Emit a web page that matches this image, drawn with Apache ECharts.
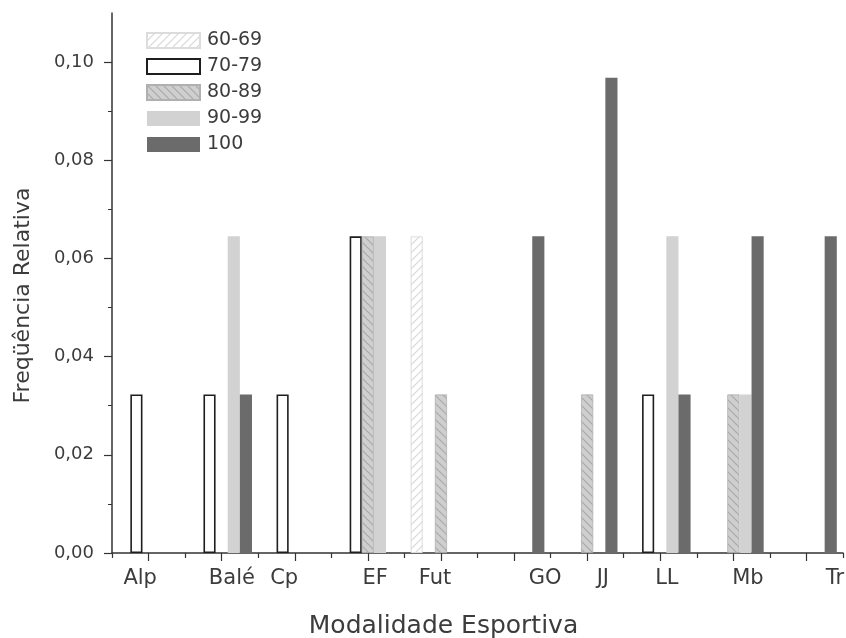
<!DOCTYPE html>
<html><head><meta charset="utf-8">
<script src="https://cdn.jsdelivr.net/npm/echarts@6/dist/echarts.min.js"></script>
<style>html,body{margin:0;padding:0;background:#fff}#c{width:846px;height:638px}</style>
</head><body><div id="c"></div>
<script>
// ---- data ----
const categories = ['Alp','Balé','Cp','EF','Fut','GO','JJ','LL','Mb','Tr'];
const seriesNames = ['60-69','70-79','80-89','90-99','100'];
const s60_69 = [null,null,null,null,0.0645,null,null,null,null,null];
const s70_79 = [0.0323,0.0323,0.0323,0.0645,null,null,null,0.0323,null,null];
const s80_89 = [null,null,null,0.0645,0.0323,null,0.0323,null,0.0323,null];
const s90_99 = [null,0.0645,null,0.0645,null,null,null,0.0645,0.0323,null];
const s100   = [null,0.0323,null,null,null,0.0645,0.0968,0.0323,0.0645,0.0645];
const yTickValues = [0,0.02,0.04,0.06,0.08,0.10];
const yMinorTickValues = [0.01,0.03,0.05,0.07,0.09];
const xTitle = 'Modalidade Esportiva';
const yTitle = 'Freqüência Relativa';

// ---- layout (label anchor positions along the 0..20 tick scale) ----
const labelAnchors = [0.77,3.28,4.71,7.2,8.84,11.85,13.43,15.18,17.4,19.78];
const centerTicks = [1,3,5,7,9,11,13,15,17,19];

function hatch(bg, line, dir){
  const c=document.createElement('canvas'); c.width=c.height=8;
  const g=c.getContext('2d'); g.fillStyle=bg; g.fillRect(0,0,8,8);
  g.strokeStyle=line; g.lineWidth=1.2; g.beginPath();
  if(dir>0){ g.moveTo(-1,9);g.lineTo(9,-1); g.moveTo(-5,5);g.lineTo(5,-5); g.moveTo(3,13);g.lineTo(13,3); }
  else { g.moveTo(-1,-1);g.lineTo(9,9); g.moveTo(-5,3);g.lineTo(5,13); g.moveTo(3,-5);g.lineTo(13,5); }
  g.stroke(); return c;
}
const TXT='#3c3c3c', FONT='DejaVu Sans';
const styles = [
  {color:{image:hatch('#ffffff','#d8d8d8',1),repeat:'repeat'}, borderColor:'#dcdcdc', borderWidth:1},
  {color:'#ffffff', borderColor:'#1e1e1e', borderWidth:1.6},
  {color:{image:hatch('#cfcfcf','#a9a9a9',-1),repeat:'repeat'}, borderColor:'#b0b0b0', borderWidth:0.8},
  {color:'#d2d2d2'},
  {color:'#6b6b6b'}
];
const values=[s60_69,s70_79,s80_89,s90_99,s100];
const chart=echarts.init(document.getElementById('c'),null,{renderer:'canvas'});
chart.setOption({
  animation:false,
  backgroundColor:'#ffffff',
  grid:{left:112,right:3,top:13,bottom:85,outerBoundsMode:'none',containLabel:false},
  legend:{data:seriesNames,orient:'vertical',left:141,top:26,itemWidth:53,itemHeight:15,itemGap:7,
    icon:'rect',selectedMode:false,
    textStyle:{fontFamily:FONT,fontSize:19,color:TXT,padding:[0,0,0,2]}},
  xAxis:[
    {type:'category',data:categories,boundaryGap:true,position:'bottom',
     axisLine:{show:true,lineStyle:{color:'#333',width:1.5}},
     axisTick:{show:true,interval:0,length:5,lineStyle:{color:'#333',width:1.2}},
     axisLabel:{show:false},splitLine:{show:false}},
    {type:'value',min:0,max:20,position:'bottom',
     axisLine:{show:false},splitLine:{show:false},
     axisTick:{show:true,customValues:centerTicks,length:8,lineStyle:{color:'#333',width:1.2}},
     axisLabel:{show:true,customValues:labelAnchors,margin:15,hideOverlap:false,
       formatter:(v)=>{const i=labelAnchors.findIndex(a=>Math.abs(a-v)<1e-6);return i>=0?categories[i]:'';},
       fontFamily:FONT,fontSize:21,color:TXT},
     name:xTitle,nameLocation:'middle',nameGap:61,
     nameTextStyle:{fontFamily:FONT,fontSize:25,color:TXT,padding:[0,68,0,0]}}
  ],
  yAxis:[
    {type:'value',min:0,max:0.11,position:'left',
    axisLine:{show:true,lineStyle:{color:'#333',width:1.5}},
    axisTick:{show:true,customValues:yTickValues,length:8,lineStyle:{color:'#333',width:1.2}},
    splitLine:{show:false},
    axisLabel:{customValues:yTickValues,margin:18,fontFamily:FONT,fontSize:18,color:TXT,
      formatter:(v)=>v.toFixed(2).replace('.',',')},
    name:yTitle,nameLocation:'middle',nameGap:78,
    nameTextStyle:{fontFamily:FONT,fontSize:22,color:TXT,padding:[0,25,0,0]}},
    {type:'value',min:0,max:0.11,position:'left',offset:0,
    axisLine:{show:false},splitLine:{show:false},axisLabel:{show:false},
    axisTick:{show:true,customValues:yMinorTickValues,length:4,lineStyle:{color:'#333',width:1}}}
  ],
  series:seriesNames.map((n,i)=>({name:n,type:'bar',xAxisIndex:0,yAxisIndex:0,data:values[i],
    barWidth:'16.6%',barGap:'0%',itemStyle:styles[i]}))
});
</script></body></html>
